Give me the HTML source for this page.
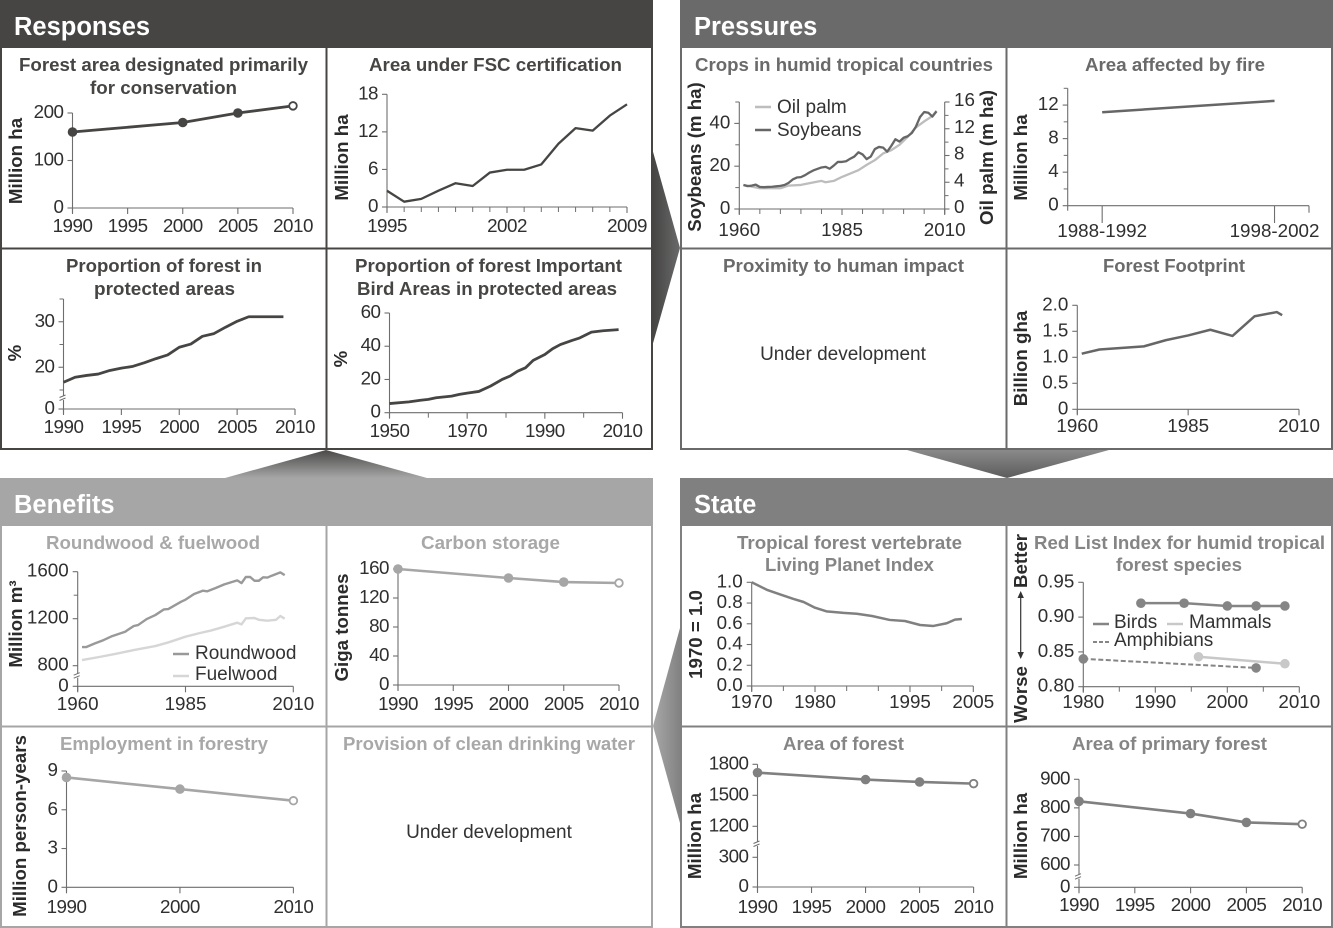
<!DOCTYPE html>
<html lang="en">
<head>
<meta charset="utf-8">
<title>Forest indicators: Responses, Pressures, Benefits, State</title>
<style>
html,body{margin:0;padding:0;background:#fff;}
svg{display:block;font-family:"Liberation Sans",sans-serif;}
.hd{font-size:25.5px;font-weight:700;fill:#fff;}
.tt{font-size:18.5px;font-weight:700;}
.yt{font-size:18.7px;font-weight:700;fill:#2b2b2b;text-anchor:middle;}
.lg{font-size:19px;fill:#333;}
.ud{font-size:19px;fill:#333;text-anchor:middle;}
.tk{fill:#2f2f2f;}
</style>
</head>
<body>
<svg id="root" width="1333" height="928" viewBox="0 0 1333 928" xmlns="http://www.w3.org/2000/svg">
<defs>
<linearGradient id="gr-right" x1="0" x2="1" y1="0" y2="0"><stop offset="0" stop-color="#454443"/><stop offset="1" stop-color="#6a6a6a"/></linearGradient>
<linearGradient id="gr-up" x1="0" x2="0" y1="0" y2="1"><stop offset="0" stop-color="#4a4948"/><stop offset="1" stop-color="#a6a6a6"/></linearGradient>
<linearGradient id="gr-down" x1="0" x2="0" y1="0" y2="1"><stop offset="0" stop-color="#8a8a8a"/><stop offset="1" stop-color="#5c5c5c"/></linearGradient>
<linearGradient id="gr-left" x1="0" x2="1" y1="0" y2="0"><stop offset="0" stop-color="#a8a8a8"/><stop offset="1" stop-color="#828282"/></linearGradient>
</defs>

<polygon points="652.5,150 680,248 652.5,345" fill="url(#gr-right)"/>
<polygon points="326,450 225,478 427,478" fill="url(#gr-up)"/>
<polygon points="907,450 1109,450 1007,478" fill="url(#gr-down)"/>
<polygon points="653,726 680,628 680,823" fill="url(#gr-left)"/>

<g>
<rect x="1" y="1" width="651" height="448" fill="none" stroke="#464544" stroke-width="2"/>
<rect x="0" y="0" width="653" height="48" fill="#464544"/>
<line x1="326.5" y1="48" x2="326.5" y2="449" stroke="#464544" stroke-width="2"/>
<line x1="0" y1="248.5" x2="653" y2="248.5" stroke="#464544" stroke-width="2"/>
<text class="hd" x="14" y="35">Responses</text>
</g>
<g>
<rect x="681" y="1" width="651" height="448" fill="none" stroke="#6a6a6a" stroke-width="2"/>
<rect x="680" y="0" width="653" height="48" fill="#6a6a6a"/>
<line x1="1006.5" y1="48" x2="1006.5" y2="449" stroke="#6a6a6a" stroke-width="2"/>
<line x1="680" y1="248.5" x2="1333" y2="248.5" stroke="#6a6a6a" stroke-width="2"/>
<text class="hd" x="694" y="35">Pressures</text>
</g>
<g>
<rect x="1" y="479" width="651" height="448" fill="none" stroke="#a6a6a6" stroke-width="2"/>
<rect x="0" y="478" width="653" height="48" fill="#a6a6a6"/>
<line x1="326.5" y1="526" x2="326.5" y2="927" stroke="#a6a6a6" stroke-width="2"/>
<line x1="0" y1="726.5" x2="653" y2="726.5" stroke="#a6a6a6" stroke-width="2"/>
<text class="hd" x="14" y="513">Benefits</text>
</g>
<g>
<rect x="681" y="479" width="651" height="448" fill="none" stroke="#808080" stroke-width="2"/>
<rect x="680" y="478" width="653" height="48" fill="#808080"/>
<line x1="1006.5" y1="526" x2="1006.5" y2="927" stroke="#808080" stroke-width="2"/>
<line x1="680" y1="726.5" x2="1333" y2="726.5" stroke="#808080" stroke-width="2"/>
<text class="hd" x="694" y="513">State</text>
</g>

<g fill="#464544">
<text class="tt" x="19" y="71" textLength="289" lengthAdjust="spacingAndGlyphs">Forest area designated primarily</text>
<text class="tt" x="90" y="94" textLength="147" lengthAdjust="spacingAndGlyphs">for conservation</text>
<text class="tt" x="369" y="71" textLength="253" lengthAdjust="spacingAndGlyphs">Area under FSC certification</text>
<text class="tt" x="66" y="272" textLength="196" lengthAdjust="spacingAndGlyphs">Proportion of forest in</text>
<text class="tt" x="94" y="295" textLength="141" lengthAdjust="spacingAndGlyphs">protected areas</text>
<text class="tt" x="355" y="272" textLength="267" lengthAdjust="spacingAndGlyphs">Proportion of forest Important</text>
<text class="tt" x="357" y="295" textLength="260" lengthAdjust="spacingAndGlyphs">Bird Areas in protected areas</text>
</g>
<g fill="#6a6a6a">
<text class="tt" x="695" y="71" textLength="298" lengthAdjust="spacingAndGlyphs">Crops in humid tropical countries</text>
<text class="tt" x="1085" y="71" textLength="180" lengthAdjust="spacingAndGlyphs">Area affected by fire</text>
<text class="tt" x="723" y="272" textLength="241" lengthAdjust="spacingAndGlyphs">Proximity to human impact</text>
<text class="tt" x="1103" y="272" textLength="142" lengthAdjust="spacingAndGlyphs">Forest Footprint</text>
</g>
<g fill="#a8a8a8">
<text class="tt" x="46" y="549" textLength="214" lengthAdjust="spacingAndGlyphs">Roundwood &amp; fuelwood</text>
<text class="tt" x="421" y="549" textLength="139" lengthAdjust="spacingAndGlyphs">Carbon storage</text>
<text class="tt" x="60" y="750" textLength="208" lengthAdjust="spacingAndGlyphs">Employment in forestry</text>
<text class="tt" x="343" y="750" textLength="292" lengthAdjust="spacingAndGlyphs">Provision of clean drinking water</text>
</g>
<g fill="#858585">
<text class="tt" x="737" y="549" textLength="225" lengthAdjust="spacingAndGlyphs">Tropical forest vertebrate</text>
<text class="tt" x="765" y="571" textLength="169" lengthAdjust="spacingAndGlyphs">Living Planet Index</text>
<text class="tt" x="1034" y="549" textLength="291" lengthAdjust="spacingAndGlyphs">Red List Index for humid tropical</text>
<text class="tt" x="1116" y="571" textLength="126" lengthAdjust="spacingAndGlyphs">forest species</text>
<text class="tt" x="783" y="750" textLength="121" lengthAdjust="spacingAndGlyphs">Area of forest</text>
<text class="tt" x="1072" y="750" textLength="195" lengthAdjust="spacingAndGlyphs">Area of primary forest</text>
</g>

<text class="ud" x="843" y="360">Under development</text>
<text class="ud" x="489" y="838">Under development</text>

<g>
<text class="yt" transform="translate(22 161) rotate(-90)">Million ha</text>
<text class="yt" transform="translate(348 157.5) rotate(-90)">Million ha</text>
<text class="yt" transform="translate(21 353) rotate(-90)">%</text>
<text class="yt" transform="translate(347 359) rotate(-90)">%</text>
<text class="yt" transform="translate(701 157) rotate(-90)">Soybeans (m ha)</text>
<text class="yt" transform="translate(993 157.5) rotate(-90)">Oil palm (m ha)</text>
<text class="yt" transform="translate(1027 157.5) rotate(-90)">Million ha</text>
<text class="yt" transform="translate(1027 358.5) rotate(-90)">Billion gha</text>
<text class="yt" transform="translate(22 624) rotate(-90)">Million m³</text>
<text class="yt" transform="translate(348 627.5) rotate(-90)">Giga tonnes</text>
<text class="yt" transform="translate(26 826) rotate(-90)">Million person-years</text>
<text class="yt" transform="translate(702 634.5) rotate(-90)">1970 = 1.0</text>
<text class="yt" transform="translate(1027 561) rotate(-90)">Better</text>
<text class="yt" transform="translate(1027 694.5) rotate(-90)">Worse</text>
<text class="yt" transform="translate(701 836) rotate(-90)">Million ha</text>
<text class="yt" transform="translate(1027 836) rotate(-90)">Million ha</text>
</g>

<g>
<line x1="1020.7" y1="594" x2="1020.7" y2="656" stroke="#333" stroke-width="1.2"/>
<polygon points="1020.7,591 1017.5,598 1023.9,598" fill="#333"/>
<polygon points="1020.7,659 1017.5,652 1023.9,652" fill="#333"/>
</g>

<g>
<line x1="755" y1="107" x2="771" y2="107" stroke="#bdbdbd" stroke-width="2.5"/>
<text class="lg" x="777" y="113">Oil palm</text>
<line x1="755" y1="130" x2="771" y2="130" stroke="#666" stroke-width="2.5"/>
<text class="lg" x="777" y="136">Soybeans</text>
</g>
<g>
<line x1="173" y1="654" x2="189" y2="654" stroke="#999" stroke-width="2.5"/>
<text class="lg" x="195" y="659">Roundwood</text>
<line x1="173" y1="676" x2="189" y2="676" stroke="#d6d6d6" stroke-width="2.5"/>
<text class="lg" x="195" y="680">Fuelwood</text>
</g>
<g>
<line x1="1093" y1="624" x2="1109" y2="624" stroke="#858585" stroke-width="2.5"/>
<text class="lg" x="1114" y="628">Birds</text>
<line x1="1167" y1="624" x2="1183" y2="624" stroke="#c8c8c8" stroke-width="2.5"/>
<text class="lg" x="1189" y="628">Mammals</text>
<line x1="1093" y1="642" x2="1109" y2="642" stroke="#858585" stroke-width="2" stroke-dasharray="4 2"/>
<text class="lg" x="1114" y="646">Amphibians</text>
</g>

<g id="charts"></g>
</svg>

<script>
/* ---------- chart data ---------- */
const conservationYears = [1990, 2000, 2005, 2010];
const conservationValues = [160, 180, 200, 215];
const conservationXTicks = [1990, 1995, 2000, 2005, 2010];
const conservationYTicks = [0, 100, 200];

const fscYears = [1995, 1996, 1997, 1998, 1999, 2000, 2001, 2002, 2003, 2004, 2005, 2006, 2007, 2008, 2009];
const fscValues = [2.6, 0.85, 1.3, 2.6, 3.8, 3.35, 5.5, 5.95, 5.95, 6.8, 10.1, 12.6, 12.2, 14.6, 16.4];
const fscXTicks = [1995, 2002, 2009];
const fscYTicks = [0, 6, 12, 18];

const protectedYears = [1990, 1991, 1992, 1993, 1994, 1995, 1996, 1997, 1998, 1999, 2000, 2001, 2002, 2003, 2004, 2005, 2006, 2007, 2008, 2009];
const protectedValues = [16.7, 17.8, 18.2, 18.5, 19.3, 19.8, 20.2, 21, 21.9, 22.7, 24.4, 25.1, 26.8, 27.4, 28.8, 30.1, 31.1, 31.1, 31.1, 31.1];
const protectedXTicks = [1990, 1995, 2000, 2005, 2010];
const protectedYTicks = [0, 20, 30];
const protectedYMinor = [15, 25, 35];

const ibaYears = [1950, 1955, 1958, 1960, 1962, 1966, 1968, 1970, 1973, 1976, 1979, 1981, 1983, 1985, 1987, 1990, 1992, 1994, 1997, 1999, 2002, 2005, 2009];
const ibaValues = [5.5, 6.5, 7.5, 8, 9, 10, 11, 11.8, 12.8, 16, 20, 22, 25, 27, 31.5, 35, 38.5, 41, 43.5, 45, 48.5, 49.3, 50];
const ibaXTicks = [1950, 1970, 1990, 2010];
const ibaXMinor = [1960, 1980, 2000];
const ibaYTicks = [0, 20, 40, 60];

const soyYears = [1961, 1962, 1963, 1964, 1965, 1966, 1967, 1968, 1969, 1970, 1971, 1972, 1973, 1974, 1975, 1976, 1977, 1978, 1979, 1980, 1981, 1982, 1983, 1984, 1985, 1986, 1987, 1988, 1989, 1990, 1991, 1992, 1993, 1994, 1995, 1996, 1997, 1998, 1999, 2000, 2001, 2002, 2003, 2004, 2005, 2006, 2007, 2008];
const soyValues = [11.2, 10.7, 10.9, 11.4, 10.3, 10.2, 10.3, 10.4, 10.6, 10.8, 11.2, 12.2, 13.8, 14.7, 14.9, 15.8, 17, 18, 18.7, 19.4, 19.7, 18.8, 20.3, 22, 22, 22.3, 23.5, 24.5, 26.5, 25.5, 23.3, 24.5, 28, 29, 28.7, 26.8, 29.5, 32.6, 31.5, 33.3, 34, 35.5, 38.5, 43, 45.3, 45, 43.2, 45.6];
const palmYears = [1961, 1965, 1970, 1972, 1975, 1979, 1980, 1981, 1983, 1985, 1987, 1989, 1991, 1993, 1995, 1997, 1999, 2001, 2003, 2005, 2007, 2008];
const palmValues = [3.6, 3.1, 3.1, 3.5, 3.6, 4.1, 4.2, 4, 4.2, 4.8, 5.3, 5.8, 6.6, 7.3, 8.3, 8.8, 9.6, 10.8, 12.2, 13.1, 13.9, 14.7];
const cropsXTicks = [1960, 1985, 2010];
const cropsXMinor = [1965, 1970, 1975, 1980, 1990, 1995, 2000, 2005];
const cropsYTicks = [0, 20, 40];
const cropsYMinor = [10, 30, 50];
const cropsRightTicks = [0, 4, 8, 12, 16];
const cropsRightMinor = [2, 6, 10, 14];

const fireCategories = ['1988-1992', '1998-2002'];
const fireValues = [11.15, 12.5];
const fireYTicks = [0, 4, 8, 12];
const fireYMinor = [2, 6, 10, 14];

const footprintYears = [1961, 1965, 1975, 1980, 1985, 1990, 1995, 2000, 2005, 2006.2];
const footprintValues = [1.07, 1.15, 1.21, 1.33, 1.42, 1.53, 1.41, 1.79, 1.87, 1.81];
const footprintXTicks = [1960, 1985, 2010];
const footprintYTicks = [0, 0.5, 1, 1.5, 2];
const footprintYLabels = ['0', '0.5', '1.0', '1.5', '2.0'];

const roundwoodYears = [1961, 1962, 1964, 1966, 1968, 1971, 1973, 1974, 1976, 1978, 1980, 1981, 1984, 1985, 1987, 1989, 1990, 1992, 1994, 1997, 1998, 1999, 2000, 2001, 2002, 2003, 2004, 2005, 2007, 2008];
const roundwoodValues = [959, 959, 990, 1018, 1052, 1089, 1138, 1146, 1197, 1231, 1279, 1282, 1345, 1362, 1410, 1438, 1433, 1461, 1492, 1526, 1503, 1555, 1555, 1523, 1523, 1552, 1550, 1566, 1594, 1571];
const fuelwoodYears = [1961, 1965, 1969, 1973, 1978, 1981, 1985, 1988, 1991, 1994, 1997, 1998, 1999, 2001, 2002, 2004, 2006, 2007, 2008];
const fuelwoodValues = [848, 874, 902, 933, 967, 998, 1047, 1075, 1100, 1132, 1166, 1152, 1203, 1206, 1191, 1183, 1191, 1223, 1200];
const woodXTicks = [1960, 1985, 2010];
const woodYTicks = [0, 800, 1200, 1600];
const woodYMinor = [1400];

const carbonYears = [1990, 2000, 2005, 2010];
const carbonValues = [160, 147.6, 142, 140.7];
const carbonXTicks = [1990, 1995, 2000, 2005, 2010];
const carbonYTicks = [0, 40, 80, 120, 160];

const employmentYears = [1990, 2000, 2010];
const employmentValues = [8.5, 7.6, 6.7];
const employmentXTicks = [1990, 2000, 2010];
const employmentYTicks = [0, 3, 6, 9];

const lpiYears = [1970, 1972.5, 1974.5, 1976.6, 1978.2, 1980, 1981.8, 1984.5, 1986.6, 1989, 1991.8, 1994.2, 1996.6, 1998.7, 2000.8, 2002.1, 2003.2];
const lpiValues = [1, 0.925, 0.883, 0.84, 0.81, 0.755, 0.72, 0.705, 0.697, 0.675, 0.637, 0.627, 0.588, 0.579, 0.605, 0.64, 0.646];
const lpiXTicks = [1970, 1980, 1995, 2005];
const lpiXMinor = [1975, 1985, 1990, 2000];
const lpiYTicks = [0, 0.2, 0.4, 0.6, 0.8, 1];
const lpiYLabels = ['0.0', '0.2', '0.4', '0.6', '0.8', '1.0'];

const birdsYears = [1988, 1994, 2000, 2004, 2008];
const birdsValues = [0.92, 0.92, 0.916, 0.916, 0.916];
const mammalsYears = [1996, 2008];
const mammalsValues = [0.843, 0.833];
const amphibiansYears = [1980, 2004];
const amphibiansValues = [0.84, 0.827];
const redlistXTicks = [1980, 1990, 2000, 2010];
const redlistXMinor = [1985, 1995, 2005];
const redlistYTicks = [0.8, 0.85, 0.9, 0.95];
const redlistYLabels = ['0.80', '0.85', '0.90', '0.95'];

const forestYears = [1990, 2000, 2005, 2010];
const forestValues = [1719, 1652, 1629, 1613];
const forestXTicks = [1990, 1995, 2000, 2005, 2010];
const forestYTicks = [0, 300, 1200, 1500, 1800];

const primaryYears = [1990, 2000, 2005, 2010];
const primaryValues = [823, 780, 749, 743];
const primaryXTicks = [1990, 1995, 2000, 2005, 2010];
const primaryYTicks = [0, 600, 700, 800, 900];

/* ---------- helpers ---------- */
const NS = 'http://www.w3.org/2000/svg';
const chartsRoot = document.getElementById('charts');
const AXIS = '#6e6e6e';
const TICK_FS = 18.8;
const TIGHT = -0.5;

function mk(parent, tag, attrs, name) {
  const el = document.createElementNS(NS, tag);
  for (const k in attrs) el.setAttribute(k, attrs[k]);
  
  
  parent.appendChild(el);
  return el;
}

function scale(domain, range) {
  return function (v) {
    let i = 0;
    while (i < domain.length - 2 && v > domain[i + 1]) i++;
    const t = (v - domain[i]) / (domain[i + 1] - domain[i]);
    return range[i] + t * (range[i + 1] - range[i]);
  };
}

function drawAxes(g, c, x, y) {
  const id = c.id;
  const xL = x(c.xDomain[0]), xR = x(c.xDomain[c.xDomain.length - 1]);
  const y0 = c.yRange[0], yT = c.yRange[c.yRange.length - 1];
  mk(g, 'line', {x1: xL, x2: xR, y1: y0, y2: y0, stroke: AXIS, 'stroke-width': 1.1}, id + '-x-axis');
  mk(g, 'line', {x1: xL, x2: xL, y1: y0 + 5, y2: yT, stroke: AXIS, 'stroke-width': 1.1}, id + '-y-axis');

  (c.xTicks || []).forEach(function (t, i) {
    const px = x(t);
    mk(g, 'line', {x1: px, x2: px, y1: y0, y2: y0 + 6, stroke: AXIS, 'stroke-width': 1.1}, id + '-x-tick');
    const tx = mk(g, 'text', {x: px, y: c.xBase, 'text-anchor': 'middle', class: 'tk', 'font-size': TICK_FS, 'letter-spacing': c.ls || 0}, id + '-x-tick-label');
    tx.textContent = c.xLabels ? c.xLabels[i] : t;
  });
  (c.xMinor || []).forEach(function (t) {
    mk(g, 'line', {x1: x(t), x2: x(t), y1: y0, y2: y0 + 5, stroke: AXIS, 'stroke-width': 1}, id + '-x-minor-tick');
  });
  (c.yTicks || []).forEach(function (t, i) {
    const py = y(t);
    mk(g, 'line', {x1: xL - 5, x2: xL, y1: py, y2: py, stroke: AXIS, 'stroke-width': 1.1}, id + '-y-tick');
    const tx = mk(g, 'text', {x: xL - 9, y: py + 5, 'text-anchor': 'end', class: 'tk', 'font-size': TICK_FS, 'letter-spacing': c.ls || 0}, id + '-y-tick-label');
    tx.textContent = c.yLabels ? c.yLabels[i] : t;
  });
  (c.yMinor || []).forEach(function (t) {
    mk(g, 'line', {x1: xL - 4, x2: xL, y1: y(t), y2: y(t), stroke: AXIS, 'stroke-width': 1}, id + '-y-minor-tick');
  });
  if (c.breakAt) {
    mk(g, 'rect', {x: xL - 3, y: c.breakAt - 2, width: 6, height: 4, fill: '#fff'}, id + '-axis-break-gap');
    mk(g, 'line', {x1: xL - 4, x2: xL + 2, y1: c.breakAt - 0.5, y2: c.breakAt - 3, stroke: AXIS, 'stroke-width': 1}, id + '-axis-break-mark');
    mk(g, 'line', {x1: xL - 4, x2: xL + 2, y1: c.breakAt + 2.5, y2: c.breakAt, stroke: AXIS, 'stroke-width': 1}, id + '-axis-break-mark');
  }
}

function drawSeries(g, c, s, x, y) {
  const pts = s.xs.map(function (v, i) { return x(v).toFixed(2) + ',' + y(s.ys[i]).toFixed(2); }).join(' ');
  const attrs = {points: pts, fill: 'none', stroke: s.color, 'stroke-width': s.width || 2.5, 'stroke-linejoin': 'round'};
  if (s.dash) attrs['stroke-dasharray'] = s.dash;
  mk(g, 'polyline', attrs, c.id + '-' + s.name + '-line');
  if (s.markers) {
    s.xs.forEach(function (v, i) {
      const open = s.openLast && i === s.xs.length - 1;
      mk(g, 'circle', {cx: x(v), cy: y(s.ys[i]), r: open ? 3.8 : 4.8, fill: open ? '#fff' : s.color, stroke: open ? s.color : 'none', 'stroke-width': open ? 1.8 : 0}, c.id + '-' + s.name + '-point');
    });
  }
}

function drawChart(c) {
  const g = mk(chartsRoot, 'g', {}, c.id + '-chart');
  const x = scale(c.xDomain, c.xRange);
  const y = scale(c.yDomain, c.yRange);
  drawAxes(g, c, x, y);
  c.series.forEach(function (s) { drawSeries(g, c, s, x, s.scaleY || y); });
  return {g: g, x: x, y: y};
}

const DARK = '#464544', PRES = '#666666', BEN = '#a6a6a6', ST = '#808080';

/* ---------- responses ---------- */
drawChart({id: 'conservation', xDomain: [1990, 2010], xRange: [72.5, 293], yDomain: [0, 200], yRange: [208, 113],
  xTicks: conservationXTicks, yTicks: conservationYTicks, xBase: 232, ls: TIGHT,
  series: [{name: 'area', xs: conservationYears, ys: conservationValues, color: DARK, width: 2.8, markers: true, openLast: true}]});

drawChart({id: 'fsc', xDomain: [1995, 2009], xRange: [387, 627], yDomain: [0, 18], yRange: [207, 94.3],
  xTicks: fscXTicks, xMinor: fscYears, yTicks: fscYTicks, xBase: 232, ls: TIGHT,
  series: [{name: 'area', xs: fscYears, ys: fscValues, color: DARK, width: 2.3}]});

drawChart({id: 'protected', xDomain: [1990, 2010], xRange: [63.5, 295], yDomain: [0, 15, 35], yRange: [409, 390, 299],
  xTicks: protectedXTicks, yTicks: protectedYTicks, yMinor: protectedYMinor, xBase: 433, ls: TIGHT, breakAt: 398,
  series: [{name: 'share', xs: protectedYears, ys: protectedValues, color: DARK, width: 2.8}]});

drawChart({id: 'iba', xDomain: [1950, 2010], xRange: [389.5, 622.5], yDomain: [0, 60], yRange: [412.7, 313],
  xTicks: ibaXTicks, xMinor: ibaXMinor, yTicks: ibaYTicks, xBase: 437, ls: TIGHT,
  series: [{name: 'share', xs: ibaYears, ys: ibaValues, color: DARK, width: 2.8}]});

/* ---------- pressures ---------- */
const cropsRightScale = scale([0, 16], [209, 102]);
const crops = drawChart({id: 'crops', xDomain: [1960, 2010], xRange: [739.3, 944.7], yDomain: [0, 50], yRange: [209, 102],
  xTicks: cropsXTicks, xMinor: cropsXMinor, yTicks: cropsYTicks, yMinor: cropsYMinor, xBase: 236,
  series: [
    {name: 'oil-palm', xs: palmYears, ys: palmValues, color: '#bdbdbd', width: 2.3, scaleY: cropsRightScale},
    {name: 'soybeans', xs: soyYears, ys: soyValues, color: PRES, width: 2.3}
  ]});
mk(crops.g, 'line', {x1: 944.7, x2: 944.7, y1: 102, y2: 214, stroke: AXIS, 'stroke-width': 1.1}, 'crops-right-axis');
cropsRightTicks.forEach(function (t) {
  mk(crops.g, 'line', {x1: 944.7, x2: 949.5, y1: cropsRightScale(t), y2: cropsRightScale(t), stroke: AXIS, 'stroke-width': 1.1}, 'crops-right-tick');
  const tx = mk(crops.g, 'text', {x: 954, y: cropsRightScale(t) + 4, class: 'tk', 'font-size': TICK_FS}, 'crops-right-tick-label');
  tx.textContent = t;
});
cropsRightMinor.forEach(function (t) {
  mk(crops.g, 'line', {x1: 944.7, x2: 948.5, y1: cropsRightScale(t), y2: cropsRightScale(t), stroke: AXIS, 'stroke-width': 1}, 'crops-right-minor-tick');
});

const fire = drawChart({id: 'fire', xDomain: [-0.2, 1.2], xRange: [1067.7, 1309], yDomain: [0, 14], yRange: [205.7, 88.3],
  xTicks: [], yTicks: fireYTicks, yMinor: fireYMinor, xBase: 237,
  series: [{name: 'area', xs: fireCategories.map(function (_, i) { return i; }), ys: fireValues, color: PRES, width: 2.5}]});
fireCategories.forEach(function (label, i) {
  mk(fire.g, 'line', {x1: fire.x(i), x2: fire.x(i), y1: 205.7, y2: 223, stroke: AXIS, 'stroke-width': 1.1}, 'fire-x-tick');
  const tx = mk(fire.g, 'text', {x: fire.x(i), y: 237, 'text-anchor': 'middle', class: 'tk', 'font-size': TICK_FS}, 'fire-x-tick-label');
  tx.textContent = label;
});
mk(fire.g, 'line', {x1: fire.x(1.2), x2: fire.x(1.2), y1: 205.7, y2: 212.7, stroke: AXIS, 'stroke-width': 1.1}, 'fire-x-axis-end-tick');

drawChart({id: 'footprint', xDomain: [1960, 2010], xRange: [1077.3, 1299], yDomain: [0, 2], yRange: [409.3, 305.3],
  xTicks: footprintXTicks, yTicks: footprintYTicks, yLabels: footprintYLabels, xBase: 432,
  series: [{name: 'footprint', xs: footprintYears, ys: footprintValues, color: PRES, width: 2.5}]});

/* ---------- benefits ---------- */
drawChart({id: 'wood', xDomain: [1960, 2010], xRange: [77.7, 293.3], yDomain: [0, 800, 1600], yRange: [686.3, 665.7, 571.7],
  xTicks: woodXTicks, yTicks: woodYTicks, yMinor: woodYMinor, xBase: 710, breakAt: 675.7,
  series: [
    {name: 'fuelwood', xs: fuelwoodYears, ys: fuelwoodValues, color: '#d6d6d6', width: 2.4},
    {name: 'roundwood', xs: roundwoodYears, ys: roundwoodValues, color: '#999999', width: 2.4}
  ]});

drawChart({id: 'carbon', xDomain: [1990, 2010], xRange: [398, 619], yDomain: [0, 160], yRange: [685, 569],
  xTicks: carbonXTicks, yTicks: carbonYTicks, xBase: 710, ls: TIGHT,
  series: [{name: 'storage', xs: carbonYears, ys: carbonValues, color: BEN, width: 2.6, markers: true, openLast: true}]});

drawChart({id: 'employment', xDomain: [1990, 2010], xRange: [66.5, 293.4], yDomain: [0, 9], yRange: [887.3, 771],
  xTicks: employmentXTicks, yTicks: employmentYTicks, xBase: 913, ls: TIGHT,
  series: [{name: 'employment', xs: employmentYears, ys: employmentValues, color: BEN, width: 2.6, markers: true, openLast: true}]});

/* ---------- state ---------- */
drawChart({id: 'lpi', xDomain: [1970, 2005], xRange: [751.7, 973.3], yDomain: [0, 1], yRange: [686, 582.3],
  xTicks: lpiXTicks, xMinor: lpiXMinor, yTicks: lpiYTicks, yLabels: lpiYLabels, xBase: 708,
  series: [{name: 'index', xs: lpiYears, ys: lpiValues, color: ST, width: 2.5}]});

drawChart({id: 'redlist', xDomain: [1980, 2010], xRange: [1083.3, 1299.3], yDomain: [0.8, 0.95], yRange: [686.7, 582.3],
  xTicks: redlistXTicks, xMinor: redlistXMinor, yTicks: redlistYTicks, yLabels: redlistYLabels, xBase: 708,
  series: [
    {name: 'mammals', xs: mammalsYears, ys: mammalsValues, color: '#c8c8c8', width: 2.5, markers: true},
    {name: 'amphibians', xs: amphibiansYears, ys: amphibiansValues, color: '#858585', width: 2, dash: '5 2.5', markers: true},
    {name: 'birds', xs: birdsYears, ys: birdsValues, color: '#858585', width: 2.5, markers: true}
  ]});

drawChart({id: 'forest-area', xDomain: [1990, 2010], xRange: [757.5, 973.6], yDomain: [0, 300, 1200, 1800], yRange: [887, 857.3, 826.3, 764.3],
  xTicks: forestXTicks, yTicks: forestYTicks, xBase: 913, ls: TIGHT, breakAt: 844,
  series: [{name: 'area', xs: forestYears, ys: forestValues, color: ST, width: 2.6, markers: true, openLast: true}]});

drawChart({id: 'primary-forest', xDomain: [1990, 2010], xRange: [1079, 1302.2], yDomain: [0, 600, 900], yRange: [887.3, 865, 779.3],
  xTicks: primaryXTicks, yTicks: primaryYTicks, xBase: 911, ls: TIGHT, breakAt: 876.7,
  series: [{name: 'area', xs: primaryYears, ys: primaryValues, color: ST, width: 2.6, markers: true, openLast: true}]});
</script>
</body>
</html>
